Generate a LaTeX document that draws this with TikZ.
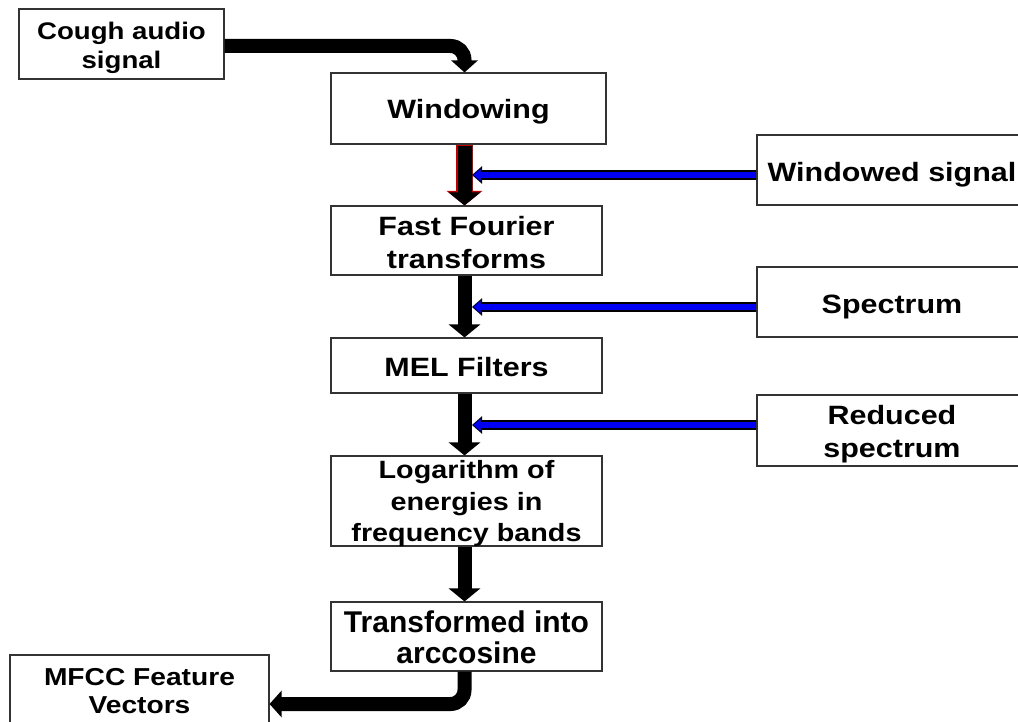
\documentclass[tikz,border=0pt]{standalone}
\usepackage{fontspec}
\usepackage{graphicx}
\setmainfont{Liberation Sans}
\usetikzlibrary{arrows.meta}
\definecolor{darkred}{RGB}{190,0,0}
\definecolor{bblue}{RGB}{0,0,245}
\newcommand{\stx}[1]{\scalebox{1.15}[1]{#1}}
\begin{document}
\begin{tikzpicture}[x=1pt,y=-1pt,
  box/.style={draw=black!80, line width=1.1pt, fill=white, inner sep=0pt},
  txt/.style={align=center, inner sep=0pt, font=\fontsize{26.5pt}{33pt}\selectfont\bfseries},
  cfont/.style={font=\fontsize{24pt}{29.5pt}\selectfont\bfseries},
  lfont/.style={font=\fontsize{25pt}{31.5pt}\selectfont\bfseries},
  tfont/.style={font=\fontsize{30pt}{30.5pt}\selectfont\bfseries},
  mfont/.style={font=\fontsize{24.5pt}{28.5pt}\selectfont\bfseries},
  flow/.style={line width=14pt, black, -{Triangle[width=31pt,length=13pt]}},
  bentflow/.style={line width=14pt, black, rounded corners=14pt, -{Triangle[width=26pt,length=12pt]}},
  redrim/.style={line width=17pt, darkred, -{Triangle[width=35pt,length=14.5pt]}},
  blueouter/.style={line width=9.5pt, black, -{Triangle[width=17pt,length=10pt]}},
  blueinner/.style={line width=6.5pt, bblue, shorten >=1.6pt, -{Triangle[width=12.5pt,length=7.5pt]}}
]
\useasboundingbox (0,0) rectangle (1018,722);
% boxes
\node[box, minimum width=205pt, minimum height=70pt] (cough) at (121.5,44) {};
\node[box, minimum width=275pt, minimum height=71pt] (win) at (468.5,108.5) {};
\node[box, minimum width=270pt, minimum height=70pt] (ws) at (892,170) {};
\node[box, minimum width=271pt, minimum height=69pt] (fft) at (466.5,240.5) {};
\node[box, minimum width=270pt, minimum height=70pt] (sp) at (892,302) {};
\node[box, minimum width=271pt, minimum height=55pt] (mel) at (466.5,365.5) {};
\node[box, minimum width=270pt, minimum height=71pt] (rs) at (892,430.5) {};
\node[box, minimum width=271pt, minimum height=90pt] (log) at (466.5,501) {};
\node[box, minimum width=271pt, minimum height=69pt] (tr) at (466.5,636.5) {};
\node[box, minimum width=259pt, minimum height=70pt] (mfcc) at (139.5,690) {};
% main flow
\coordinate (col) at (464.5,0);
\coordinate (c1) at (464.5,46);
\coordinate (c2) at (464.5,704);
\coordinate (b1) at (472,175);
\coordinate (b2) at (472,307);
\coordinate (b3) at (472,425);
\draw[bentflow] (cough.east |- c1) -- (c1) -- (c1 |- win.north);
\draw[redrim] (win.south -| col) -- (fft.north -| col);
\draw[flow] ([yshift=-1pt]win.south -| col) -- (fft.north -| col);
\draw[flow] (fft.south -| col) -- (mel.north -| col);
\draw[flow] (mel.south -| col) -- (log.north -| col);
\draw[flow] (log.south -| col) -- (tr.north -| col);
\draw[bentflow] (tr.south -| c2) -- (c2) -- (c2 -| mfcc.east);
% side inputs
\draw[blueouter] (b1 -| ws.west) -- (b1);
\draw[blueinner] (b1 -| ws.west) -- (b1);
\draw[blueouter] (b2 -| sp.west) -- (b2);
\draw[blueinner] (b2 -| sp.west) -- (b2);
\draw[blueouter] (b3 -| rs.west) -- (b3);
\draw[blueinner] (b3 -| rs.west) -- (b3);
% texts
\node[txt, cfont] (coughT) at ([yshift=-4pt]cough.center) {\stx{Cough audio}\\\stx{signal}};
\node[txt] (winT) at ([yshift=-3pt]win.center) {\stx{Windowing}};
\node[txt] (wsT) at ([yshift=-5pt]ws.center) {\stx{Windowed signal}};
\node[txt] (fftT) at ([yshift=-2pt]fft.center) {\stx{Fast Fourier}\\\stx{transforms}};
\node[txt] (spT) at ([yshift=-5pt]sp.center) {\stx{Spectrum}};
\node[txt] (melT) at ([yshift=-2pt]mel.center) {\stx{MEL Filters}};
\node[txt] (rsT) at ([yshift=-4pt]rs.center) {\stx{Reduced}\\\stx{spectrum}};
\node[txt, lfont] (logT) at ([yshift=-3pt]log.center) {\stx{Logarithm of}\\\stx{energies in}\\\stx{frequency bands}};
\node[txt, tfont] (trT) at ([yshift=-1pt]tr.center) {Transformed into\\arccosine};
\node[txt, mfont] (mfccT) at ([yshift=-1pt]mfcc.center) {\stx{MFCC Feature}\\\stx{Vectors}};
\end{tikzpicture}
\end{document}
